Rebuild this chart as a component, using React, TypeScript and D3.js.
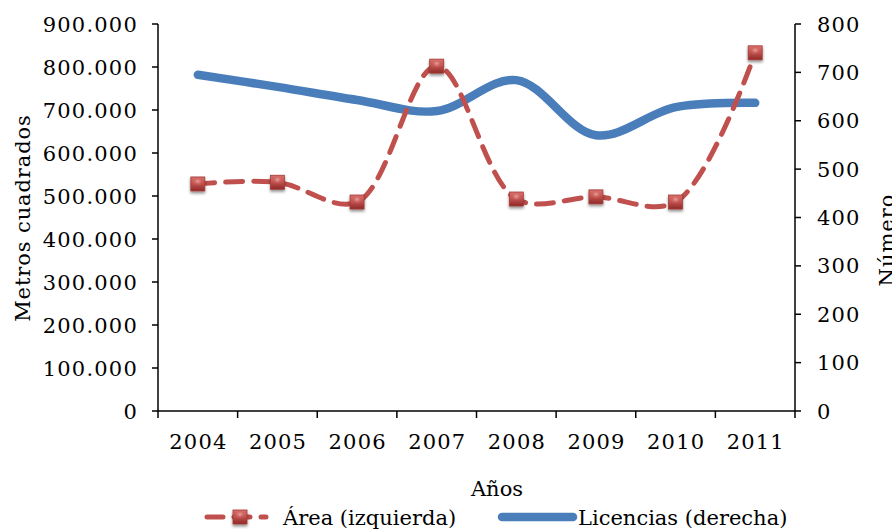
import React, { useEffect } from "react";
import * as d3 from "d3";

const years = ["2004", "2005", "2006", "2007", "2008", "2009", "2010", "2011"];
const areaValues = [528000, 532000, 486000, 802000, 493000, 498000, 486000, 833000];
const licenciasValues = [695, 670, 643, 620, 684, 570, 628, 637];
const leftTicks = [0, 100000, 200000, 300000, 400000, 500000, 600000, 700000, 800000, 900000];
const rightTicks = [0, 100, 200, 300, 400, 500, 600, 700, 800];
const areaLabel = "Área (izquierda)";
const licLabel = "Licencias (derecha)";

const W = 892, H = 529;
const M = { left: 158, right: 795, top: 24, bottom: 411 };
const FONT = "'DejaVu Serif', serif";
const RED = "#C0504D";
const BLUE = "#4A7EBB";

const fmt = (v: number) => {
  if (v === 0) return "0";
  return d3.format(",")(v).replace(/,/g, ".");
};

function Marker({ x, y }: { x: number; y: number }) {
  const s = 14;
  return (
    <g filter="url(#shadow)">
      <rect x={x - s / 2} y={y - s / 2} width={s} height={s} fill="url(#mk)" stroke="#A33B38" strokeWidth={0.8} />
      <rect x={x - s / 2 + 2} y={y - s / 2 + 2} width={s - 4} height={s - 6} fill="url(#mkhi)" />
    </g>
  );
}

export default function App() {
  useEffect(() => {
    document.body.style.margin = "0";
  }, []);

  const x = d3.scaleBand().domain(years).range([M.left, M.right]);
  const yL = d3.scaleLinear().domain([0, 900000]).range([M.bottom, M.top]);
  const yR = d3.scaleLinear().domain([0, 800]).range([M.bottom, M.top]);
  const cx = (d: string) => (x(d) as number) + x.bandwidth() / 2;

  const areaLine = d3
    .line<number>()
    .x((_, i) => cx(years[i]))
    .y((d) => yL(d))
    .curve(d3.curveCatmullRom.alpha(0.5));
  const licLine = d3
    .line<number>()
    .x((_, i) => cx(years[i]))
    .y((d) => yR(d))
    .curve(d3.curveCatmullRom.alpha(0.5));

  const boundaries = years.map((d) => x(d) as number).concat([M.right]);

  return (
    <svg width={W} height={H} style={{ display: "block", background: "#fff" }} fontFamily={FONT}>
      <defs>
        <linearGradient id="mk" x1="0" y1="0" x2="0" y2="1">
          <stop offset="0" stopColor="#D9706C" />
          <stop offset="0.5" stopColor="#C0504D" />
          <stop offset="1" stopColor="#8E2A27" />
        </linearGradient>
        <radialGradient id="mkhi" cx="0.5" cy="0.3" r="0.6">
          <stop offset="0" stopColor="#F2A9A6" stopOpacity={0.9} />
          <stop offset="1" stopColor="#C0504D" stopOpacity={0} />
        </radialGradient>
        <filter id="shadow" x="-50%" y="-50%" width="200%" height="200%">
          <feGaussianBlur in="SourceAlpha" stdDeviation="1.5" />
          <feOffset dx="0" dy="1.5" result="b" />
          <feComponentTransfer><feFuncA type="linear" slope="0.45" /></feComponentTransfer>
          <feMerge>
            <feMergeNode />
            <feMergeNode in="SourceGraphic" />
          </feMerge>
        </filter>
      </defs>

      {/* axes */}
      <g stroke="#000" strokeWidth={1.5}>
        <line x1={M.left} x2={M.left} y1={M.top} y2={M.bottom} />
        <line x1={M.right} x2={M.right} y1={M.top} y2={M.bottom} />
        <line x1={M.left} x2={M.right} y1={M.bottom} y2={M.bottom} />
        {leftTicks.map((t) => (
          <line key={"lt" + t} x1={M.left - 6} x2={M.left} y1={yL(t)} y2={yL(t)} />
        ))}
        {rightTicks.map((t) => (
          <line key={"rt" + t} x1={M.right} x2={M.right + 6} y1={yR(t)} y2={yR(t)} />
        ))}
        {boundaries.map((b, i) => (
          <line key={"bt" + i} x1={b} x2={b} y1={M.bottom} y2={M.bottom + 7} />
        ))}
      </g>

      <g fontSize={21} fill="#000">
        {leftTicks.map((t) => (
          <text key={"ll" + t} x={138} y={yL(t)} dy="0.36em" textAnchor="end" letterSpacing={1.2}>{fmt(t)}</text>
        ))}
        {rightTicks.map((t) => (
          <text key={"rl" + t} x={817} y={yR(t)} dy="0.36em" textAnchor="start" letterSpacing={1.2}>{t}</text>
        ))}
        {years.map((d) => (
          <text key={"yl" + d} x={cx(d) + 0.6} y={441} dy="0.36em" textAnchor="middle" letterSpacing={1.2}>{d}</text>
        ))}
        <text x={497} y={488} dy="0.36em" textAnchor="middle">Años</text>
        <text transform={`translate(22,218) rotate(-90)`} dy="0.36em" textAnchor="middle" letterSpacing={0.9}>Metros cuadrados</text>
        <text transform={`translate(886,240) rotate(-90)`} dy="0.36em" textAnchor="middle" letterSpacing={1}>Número</text>
      </g>

      {/* series */}
      <path d={licLine(licenciasValues) || ""} fill="none" stroke={BLUE} strokeWidth={8.5} strokeLinecap="round" />
      <path d={areaLine(areaValues) || ""} fill="none" stroke={RED} strokeWidth={5} strokeDasharray="17 11" strokeLinecap="round" />
      {areaValues.map((v, i) => (
        <Marker key={"m" + i} x={cx(years[i])} y={yL(v)} />
      ))}

      {/* legend */}
      <g>
        <line x1={207} x2={266} y1={517} y2={517} stroke={RED} strokeWidth={5} strokeDasharray="16 11" strokeLinecap="round" />
        <Marker x={240} y={517} />
        <text x={283} y={517} dy="0.36em" fontSize={21}>{areaLabel}</text>
        <line x1={502} x2={573} y1={517} y2={517} stroke={BLUE} strokeWidth={8.5} strokeLinecap="round" />
        <text x={578} y={517} dy="0.36em" fontSize={21}>{licLabel}</text>
      </g>
    </svg>
  );
}
